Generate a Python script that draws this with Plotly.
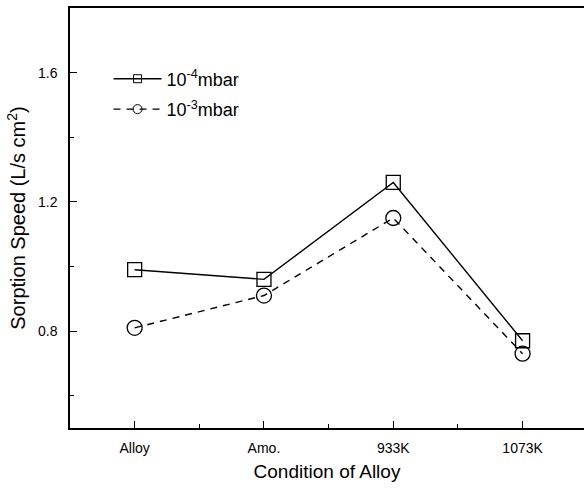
import plotly.graph_objects as go

# Sorption speed of the getter alloy in different conditions
conditions = ["Alloy", "Amo.", "933K", "1073K"]
x_pos = [1, 2, 3, 4]
speed_1e4 = [0.99, 0.96, 1.26, 0.77]
speed_1e3 = [0.81, 0.91, 1.15, 0.73]
y_ticks = [0.8, 1.2, 1.6]
series_names = ["10<sup>-4</sup>mbar", "10<sup>-3</sup>mbar"]

solid = dict(color="black", width=1.4)
dashed = dict(color="black", width=1.4, dash="7px,6px")

fig = go.Figure()
fig.add_trace(go.Scatter(
    x=x_pos, y=speed_1e4, mode="lines+markers", showlegend=False,
    line=solid,
    marker=dict(symbol="square-open", size=14, color="black", line=dict(width=1.3)),
))
fig.add_trace(go.Scatter(
    x=x_pos, y=speed_1e3, mode="lines+markers", showlegend=False,
    line=dashed,
    marker=dict(symbol="circle-open", size=15, color="black", line=dict(width=1.3)),
))

# legend entries use smaller symbols than the data markers
fig.add_trace(go.Scatter(
    x=[None], y=[None], mode="lines+markers", name=series_names[0], legendgroup="a",
    line=solid,
    marker=dict(symbol="square-open", size=8, color="black", line=dict(width=1)),
))
fig.add_trace(go.Scatter(
    x=[None], y=[None], mode="lines+markers", name=series_names[1], legendgroup="b",
    line=dashed,
    marker=dict(symbol="circle-open", size=9, color="black", line=dict(width=1)),
))

fig.update_layout(
    width=584, height=489,
    margin=dict(l=70, r=0, t=8, b=61),
    paper_bgcolor="white", plot_bgcolor="white",
    font=dict(family="Liberation Sans, Arial", color="black"),
    legend=dict(x=0.075, y=0.875, xanchor="left", yanchor="top",
                font=dict(size=18), itemwidth=48, tracegroupgap=4,
                bgcolor="rgba(0,0,0,0)"),
    xaxis=dict(
        range=[0.5, 4.475], tickmode="array", tickvals=x_pos, ticktext=conditions,
        ticks="inside", ticklen=7, tickwidth=1, tickcolor="black",
        minor=dict(tickvals=[1.5, 2.5, 3.5], ticks="inside", ticklen=4, tickcolor="black"),
        showline=True, linecolor="black", linewidth=1.5, mirror=True,
        showgrid=False, zeroline=False,
        tickfont=dict(size=14), ticklabelstandoff=6,
        title=dict(text="Condition of Alloy", font=dict(size=19), standoff=10),
    ),
    yaxis=dict(
        range=[0.5, 1.8], tickmode="array", tickvals=y_ticks,
        ticktext=[f"{v:.1f}" for v in y_ticks],
        ticks="inside", ticklen=7, tickwidth=1, tickcolor="black",
        minor=dict(tickvals=[0.6, 1.0, 1.4], ticks="inside", ticklen=4, tickcolor="black"),
        showline=True, linecolor="black", linewidth=1.5,
        showgrid=False, zeroline=False,
        tickfont=dict(size=14), ticklabelstandoff=8,
        title=dict(text="Sorption Speed (L/s cm<sup>2</sup>)", font=dict(size=20), standoff=7),
    ),
)

fig.write_html("out.html")
